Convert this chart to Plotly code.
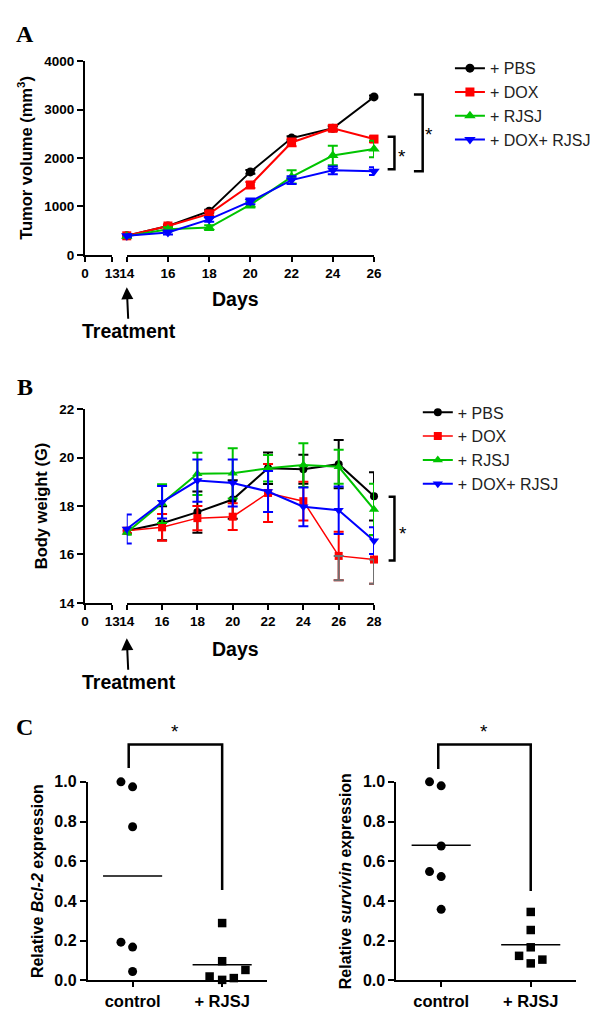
import numpy as np
import plotly.graph_objects as go

W, H = 602, 1017
FONT = "Liberation Sans, Arial, sans-serif"

# ---- panel A: tumour volume (mm3) ----
days_a = [14, 16, 18, 20, 22, 24, 26]
vol_pbs = [392, 595, 900, 1712, 2410, 2613, 3260]
vol_dox = [392, 595, 846, 1442, 2320, 2613, 2390]
vol_rjsj = [385, 528, 562, 1035, 1610, 2050, 2187]
vol_combo = [392, 460, 731, 1102, 1543, 1746, 1726]
vol_pbs_err = [20, 25, 30, 40, 40, 40, 30]
vol_dox_err = [20, 30, 40, 60, 80, 60, 60]
vol_rjsj_err = [30, 40, 50, 60, 135, 200, 170]
vol_combo_err = [30, 40, 50, 60, 80, 80, 80]

# ---- panel B: body weight (g) ----
days_b = [14, 16, 18, 20, 22, 24, 26, 28]
wt_pbs = [16.98, 17.29, 17.75, 18.27, 19.56, 19.52, 19.73, 18.40]
wt_dox = [16.98, 17.12, 17.50, 17.56, 18.54, 18.20, 15.94, 15.79]
wt_rjsj = [16.91, 18.10, 19.33, 19.35, 19.56, 19.69, 19.62, 17.86]
wt_combo = [17.05, 18.16, 19.05, 18.95, 18.60, 17.97, 17.83, 16.57]
wt_pbs_err = [0.10, 0.70, 0.85, 0.80, 0.65, 0.60, 1.00, 1.00]
wt_dox_err = [0.10, 0.55, 0.50, 0.55, 1.20, 0.80, 1.00, 1.00]
wt_rjsj_err = [0.10, 0.80, 0.87, 1.04, 0.55, 0.90, 0.70, 1.06]
wt_combo_err = [0.60, 0.67, 0.87, 0.97, 0.85, 0.80, 0.98, 0.55]

groups = ["+ PBS", "+ DOX", "+ RJSJ", "+ DOX+ RJSJ"]

# ---- panel C: relative expression ----
c_groups = ["control", "+ RJSJ"]
ctrl_bcl2 = [1.0, 0.975, 0.774, 0.193, 0.168, 0.045]
rjsj_bcl2 = [0.289, 0.097, 0.053, 0.020, 0.012, 0.003]
ctrl_surv = [1.0, 0.98, 0.677, 0.548, 0.523, 0.358]
rjsj_surv = [0.345, 0.254, 0.167, 0.124, 0.105, 0.086]
# horizontal dodge of overlapping dots (in category units)
ctrl_bcl2_dx = [-0.13, 0, 0, -0.13, 0, 0]
rjsj_bcl2_dx = [0, 0, 0.26, -0.14, 0.13, 0]
ctrl_surv_dx = [-0.13, 0, 0, -0.13, 0, 0]
rjsj_surv_dx = [0, 0, 0, -0.13, 0.13, 0]

colors = ["#000000", "#ff0000", "#00c400", "#0000ff"]
symbols = ["circle", "square", "triangle-up", "triangle-down"]


def px(x):
    return x / W


def py(y):
    return 1 - y / H


def dom_x(a, b):
    return [a / W, b / W]


def dom_y(top, bottom):
    return [1 - bottom / H, 1 - top / H]


fig = go.Figure()

# empty traces so the short 0-13 axis pieces get drawn
for xa, ya in [("x2", "y"), ("x4", "y2")]:
    fig.add_trace(go.Scatter(x=[0, 13], y=[None, None], mode="lines", xaxis=xa, yaxis=ya,
                             showlegend=False, hoverinfo="skip"))

# panel A lines
a_vals = [vol_pbs, vol_dox, vol_rjsj, vol_combo]
a_errs = [vol_pbs_err, vol_dox_err, vol_rjsj_err, vol_combo_err]
for i in range(4):
    fig.add_trace(go.Scatter(
        x=days_a, y=a_vals[i], name=groups[i], mode="lines+markers",
        xaxis="x", yaxis="y", legend="legend", legendgroup="a%d" % i,
        line=dict(color=colors[i], width=2),
        marker=dict(symbol=symbols[i], size=9 if i < 2 else 10, color=colors[i]),
        error_y=dict(type="data", array=a_errs[i], color=colors[i], thickness=2, width=5),
        cliponaxis=False))

# panel B lines
b_vals = [wt_pbs, wt_dox, wt_rjsj, wt_combo]
b_errs = [wt_pbs_err, wt_dox_err, wt_rjsj_err, wt_combo_err]
for i in range(4):
    fig.add_trace(go.Scatter(
        x=days_b, y=b_vals[i], name=groups[i], mode="lines+markers",
        xaxis="x3", yaxis="y2", legend="legend2", legendgroup="b%d" % i,
        line=dict(color=colors[i], width=2 if i != 1 else 1.5),
        marker=dict(symbol=symbols[i], size=8 if i < 2 else 9, color=colors[i]),
        error_y=dict(type="data", array=b_errs[i], color=colors[i], thickness=2, width=5),
        cliponaxis=False))

# grey lower whiskers of the DOX group on the last two days
fig.add_trace(go.Scatter(
    x=days_b[-2:], y=wt_dox[-2:], mode="markers", xaxis="x3", yaxis="y2",
    marker=dict(size=1, opacity=0), showlegend=False, hoverinfo="skip",
    error_y=dict(type="data", symmetric=False, array=[0, 0], arrayminus=wt_dox_err[-2:],
                 color="#707070", thickness=2, width=5),
    cliponaxis=False))

# panel C dot plots
c_sets = [
    ("x5", "y3", ctrl_bcl2, ctrl_bcl2_dx, rjsj_bcl2, rjsj_bcl2_dx),
    ("x6", "y4", ctrl_surv, ctrl_surv_dx, rjsj_surv, rjsj_surv_dx),
]
for xa, ya, cv, cdx, rv, rdx in c_sets:
    fig.add_trace(go.Scatter(
        x=[0 + d for d in cdx], y=cv, mode="markers", xaxis=xa, yaxis=ya,
        marker=dict(symbol="circle", size=9, color="black"), showlegend=False,
        cliponaxis=False))
    fig.add_trace(go.Scatter(
        x=[1 + d for d in rdx], y=rv, mode="markers", xaxis=xa, yaxis=ya,
        marker=dict(symbol="square", size=8.5, color="black"), showlegend=False,
        cliponaxis=False))
    for k, vals in enumerate([cv, rv]):
        m = float(np.mean(vals))
        fig.add_trace(go.Scatter(
            x=[k - 0.33, k + 0.33], y=[m, m], mode="lines", xaxis=xa, yaxis=ya,
            line=dict(color="black", width=1.6), showlegend=False, cliponaxis=False))

axis = dict(showline=True, linecolor="black", linewidth=2, ticks="outside", ticklen=5,
            tickwidth=2, tickcolor="black", showgrid=False, zeroline=False,
            tickfont=dict(family=FONT, size=13.5, color="black", weight="bold"))
yaxis_style = dict(axis, ticklen=6)
title_font = dict(family=FONT, size=16.5, color="black", weight="bold")
c_title_font = dict(title_font, size=16)
c_xfont = dict(axis["tickfont"], size=16.5)
c_yfont = dict(axis["tickfont"], size=16)

layout = dict(
    width=W, height=H, margin=dict(l=0, r=0, t=0, b=0),
    paper_bgcolor="white", plot_bgcolor="white", font=dict(family=FONT, color="black"),
    # panel A
    xaxis=dict(axis, domain=dom_x(122, 376), range=[14, 26], tickvals=days_a, anchor="y"),
    xaxis2=dict(axis, domain=dom_x(79, 107), range=[0, 13], tickvals=[0, 13], anchor="y"),
    yaxis=dict(yaxis_style, domain=dom_y(54, 251), range=[0, 4000], dtick=1000, anchor="x2",
               title=dict(text="Tumor volume (mm<sup>3</sup>)", font=title_font, standoff=7)),
    # panel B
    xaxis3=dict(axis, domain=dom_x(122, 376), range=[14, 28], tickvals=days_b, anchor="y2"),
    xaxis4=dict(axis, domain=dom_x(79, 107), range=[0, 13], tickvals=[0, 13], anchor="y2"),
    yaxis2=dict(yaxis_style, domain=dom_y(408, 605), range=[14, 22], dtick=2, anchor="x4",
                title=dict(text="Body weight (G)", font=title_font, standoff=7)),
    # panel C
    xaxis5=dict(axis, domain=dom_x(82, 266), range=[-0.5, 1.5], tickvals=[0, 1],
                ticktext=c_groups, anchor="y3", tickfont=c_xfont),
    yaxis3=dict(yaxis_style, domain=dom_y(787, 989), range=[0, 1], dtick=0.2, tickformat=".1f",
                anchor="x5", tickfont=c_yfont,
                title=dict(text="Relative <i>Bcl-2</i> expression", font=c_title_font, standoff=7)),
    xaxis6=dict(axis, domain=dom_x(399, 583), range=[-0.5, 1.5], tickvals=[0, 1],
                ticktext=c_groups, anchor="y4", tickfont=c_xfont),
    yaxis4=dict(yaxis_style, domain=dom_y(787, 989), range=[0, 1], dtick=0.2, tickformat=".1f",
                anchor="x6", tickfont=c_yfont,
                title=dict(text="Relative <i>survivin</i> expression", font=c_title_font, standoff=7)),
    legend=dict(x=px(454), y=py(44), xanchor="left", yanchor="top", tracegroupgap=0,
                font=dict(family=FONT, size=16, color="#222222"), bgcolor="rgba(0,0,0,0)"),
    legend2=dict(x=px(421), y=py(394), xanchor="left", yanchor="top", tracegroupgap=0,
                 font=dict(family=FONT, size=16, color="#222222"), bgcolor="rgba(0,0,0,0)"),
)
fig.update_layout(**layout)

# significance brackets
line = dict(color="black", width=2.5)
shapes = []
for x0, x1, top, bottom in [(390, 397, 131, 164), (417, 426, 88, 166), (391, 397, 497, 562)]:
    shapes.append(dict(type="path", xref="paper", yref="paper", line=line,
                       path="M %f %f L %f %f L %f %f L %f %f" % (
                           px(x0), py(top), px(x1), py(top), px(x1), py(bottom), px(x0), py(bottom))))
for xl, xr, top, left_bottom, right_bottom in [(124, 220, 749, 773, 897), (442, 537, 749, 774, 898)]:
    shapes.append(dict(type="path", xref="paper", yref="paper", line=line,
                       path="M %f %f L %f %f L %f %f L %f %f" % (
                           px(xl), py(left_bottom), px(xl), py(top), px(xr), py(top), px(xr), py(right_bottom))))
fig.update_layout(shapes=shapes)

ann = []
for x, y in [(405, 147), (433, 125), (406, 530), (172, 732), (489, 732)]:
    ann.append(dict(x=px(x), y=py(y + 4), xref="paper", yref="paper", text="*", showarrow=False,
                    xanchor="center", yanchor="middle", font=dict(family=FONT, size=19, color="black")))
for label, y in [("A", 26), ("B", 385), ("C", 731)]:
    ann.append(dict(x=px(17), y=py(y), xref="paper", yref="paper", text="<b>%s</b>" % label,
                    showarrow=False, xanchor="center", yanchor="middle",
                    font=dict(family="Liberation Serif, Times New Roman, serif", size=24, color="black")))
for y in [296, 652]:
    ann.append(dict(x=px(234), y=py(y), xref="paper", yref="paper", text="Days", showarrow=False,
                    xanchor="center", yanchor="middle",
                    font=dict(family=FONT, size=19.5, color="black", weight="bold")))
for tip in [284, 641]:
    ann.append(dict(x=px(122), y=py(tip), xref="paper", yref="paper", text="Treatment",
                    showarrow=True, arrowhead=2, arrowsize=1.2, arrowwidth=2, arrowcolor="black",
                    ax=2, ay=44, font=dict(family=FONT, size=19.5, color="black", weight="bold")))
fig.update_layout(annotations=ann)

fig.write_html("out.html", config={"displayModeBar": False},
               post_script="document.body.style.margin='0';")
